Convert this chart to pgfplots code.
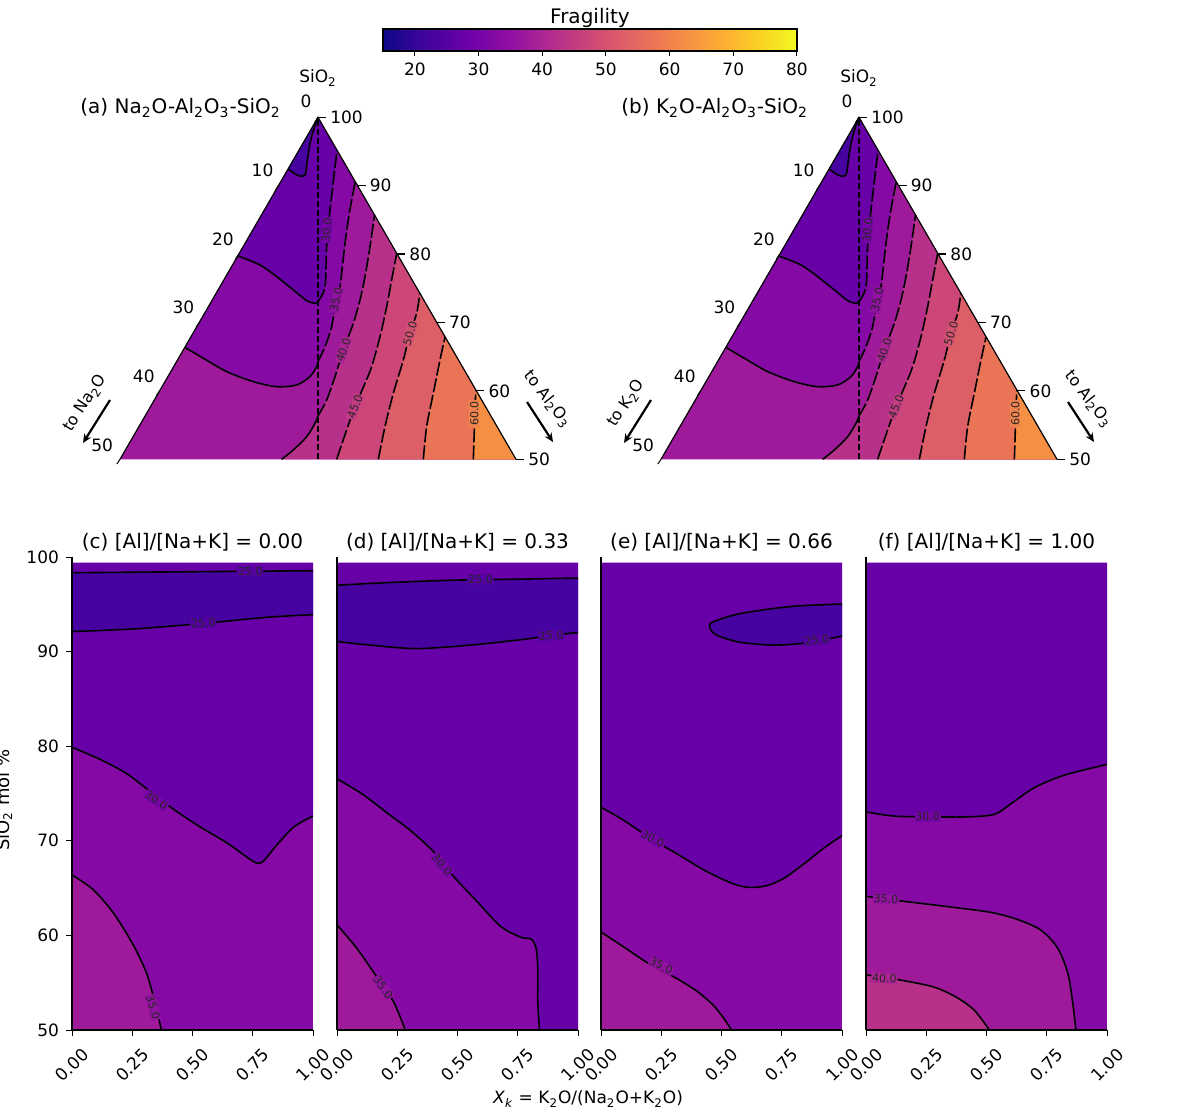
\documentclass[border=0pt]{standalone}
\usepackage{pgfplots}
\pgfplotsset{compat=1.18}
\usepackage{fontspec}
\setmainfont{DejaVu Sans}
\usetikzlibrary{arrows.meta}

\definecolor{b20}{HTML}{4703A0}
\definecolor{b25}{HTML}{6800A8}
\definecolor{b30}{HTML}{8409A5}
\definecolor{b35}{HTML}{9F1A9B}
\definecolor{b40}{HTML}{B7318A}
\definecolor{b45}{HTML}{CC4778}
\definecolor{b50}{HTML}{DC5E67}
\definecolor{b55}{HTML}{EA7556}
\definecolor{b60}{HTML}{F58F44}
\definecolor{p0}{HTML}{0D0887}
\definecolor{p1}{HTML}{41049D}
\definecolor{p2}{HTML}{6A00A8}
\definecolor{p3}{HTML}{8F0DA4}
\definecolor{p4}{HTML}{B12A90}
\definecolor{p5}{HTML}{CC4778}
\definecolor{p6}{HTML}{E16462}
\definecolor{p7}{HTML}{F2844B}
\definecolor{p8}{HTML}{FCA636}
\definecolor{p9}{HTML}{FCCE25}
\definecolor{p10}{HTML}{F0F921}
\pgfdeclarehorizontalshading{plasmah}{100bp}{color(0bp)=(p0); color(25bp)=(p0); color(30bp)=(p1); color(35bp)=(p2); color(40bp)=(p3); color(45bp)=(p4); color(50bp)=(p5); color(55bp)=(p6); color(60bp)=(p7); color(65bp)=(p8); color(70bp)=(p9); color(75bp)=(p10); color(100bp)=(p10)}

\tikzset{
  cl/.style={font=\fontsize{5.5}{5.5}\selectfont, text=black!85, inner sep=0.4pt, outer sep=0pt},
  tl/.style={font=\fontsize{8.5}{9}\selectfont, inner sep=0pt},
}
\pgfplotsset{
  tern/.style={anchor=south west, scale only axis, width=198pt, height=171pt, xmin=-50, xmax=50, ymin=50, ymax=100, hide axis, clip=false},
  cline/.style={black, line width=0.8pt, smooth, tension=0.5},
  dline/.style={black, line width=0.8pt, smooth, tension=0.5, dash pattern=on 7pt off 1.5pt},
  bot/.style={anchor=south west, scale only axis, width=120.5pt, height=236.5pt,
    xmin=0, xmax=1, ymin=50, ymax=100,
    axis x line*=bottom, axis y line*=left, axis line style={line width=0.6pt},
    xtick={0,0.25,0.5,0.75,1}, xticklabels={0.00,0.25,0.50,0.75,1.00},
    tick align=outside, major tick length=3pt, tick style={black, line width=0.5pt},
    xticklabel style={yshift=-14.5pt, rotate=45, anchor=center, font=\fontsize{8.5}{9}\selectfont},
    yticklabel style={font=\fontsize{8.5}{9}\selectfont},
    /pgf/number format/assume math mode=true,
    ytick=\empty,
    title style={font=\fontsize{10}{12}\selectfont, at={(0.5,1)}, anchor=south, yshift=-6.5pt},
    axis on top},
}

\newcommand\ternbody{%
\addplot[fill=b35, draw=none] coordinates {(-50,50) (0,100) (50,50)};
\addplot[fill=b30, draw=none] coordinates {(-33.63,66.37) (-28.96,64.77) (-23.06,62.82) (-16.33,61.35) (-10.44,60.62) (-5.39,60.87) (-2.02,62.09) (-0.34,63.55) (0,64.28) (1.77,66.47) (3.45,69.40) (4.55,73.29) (5.56,75.24) (6.82,81.58) (7.91,85.97) (9.41,90.59) (0,100)};
\addplot[fill=b25, draw=none] coordinates {(-20.27,79.73) (-14.65,78.41) (-10.44,76.71) (-6.23,74.76) (-2.86,73.20) (-0.76,72.81) (0,73.05) (1.77,75.24) (2.19,81.09) (3.03,86.45) (4.82,95.18) (0,100)};
\addplot[fill=b20, draw=none] coordinates {(0,100) (-1.01,98.39) (-2.02,96.20) (-2.69,93.76) (-3.28,91.57) (-4.97,91.47) (-7.55,92.45)};
\addplot[fill=b40, draw=none] coordinates {(-9.18,50) (-6.23,51.36) (-2.86,53.31) (-0.76,55.26) (0,56.34) (2.19,58.67) (4.29,62.09) (6.40,65.98) (8.92,69.88) (10.61,73.29) (11.87,76.71) (13.13,81.09) (14.28,85.72) (50,50)};
\addplot[fill=b45, draw=none] coordinates {(4.71,50) (7.24,54.29) (9.34,57.70) (11.5,60.6) (13.55,63.55) (15.66,67.93) (17.34,72.32) (18.60,76.22) (19.88,80.12) (50,50)};
\addplot[fill=b50, draw=none] coordinates {(15.24,50) (16.92,54.78) (19.02,59.65) (21.55,64.52) (23.23,68.42) (24.92,71.35) (25.73,74.27) (50,50)};
\addplot[fill=b55, draw=none] coordinates {(26.60,50) (27.44,54.78) (29.12,59.65) (30.81,64.52) (32.1,67.9) (50,50)};
\addplot[fill=b60, draw=none] coordinates {(39.23,50) (39.65,57.21) (39.86,60.14) (50,50)};
% contour lines
\addplot[cline] coordinates {(-7.55,92.45) (-4.97,91.47) (-3.28,91.57) (-2.69,93.76) (-2.02,96.20) (-1.01,98.39) (0,100)};
\addplot[cline] coordinates {(-20.27,79.73) (-14.65,78.41) (-10.44,76.71) (-6.23,74.76) (-2.86,73.20) (-0.76,72.81) (0,73.05)};
\addplot[dline] coordinates {(0,73.05) (1.77,75.24) (2.19,81.09) (3.03,86.45) (4.82,95.18)};
\addplot[cline] coordinates {(-33.63,66.37) (-28.96,64.77) (-23.06,62.82) (-16.33,61.35) (-10.44,60.62) (-5.39,60.87) (-2.02,62.09) (-0.34,63.55) (0,64.28)};
\addplot[dline] coordinates {(0,64.28) (1.77,66.47) (3.45,69.40) (4.55,73.29) (5.56,75.24) (6.82,81.58) (7.91,85.97) (9.41,90.59)};
\addplot[cline] coordinates {(-9.18,50) (-6.23,51.36) (-2.86,53.31) (-0.76,55.26) (0,56.34)};
\addplot[dline] coordinates {(0,56.34) (2.19,58.67) (4.29,62.09) (6.40,65.98) (8.92,69.88) (10.61,73.29) (11.87,76.71) (13.13,81.09) (14.28,85.72)};
\addplot[dline] coordinates {(4.71,50) (7.24,54.29) (9.34,57.70) (11.5,60.6) (13.55,63.55) (15.66,67.93) (17.34,72.32) (18.60,76.22) (19.88,80.12)};
\addplot[dline] coordinates {(15.24,50) (16.92,54.78) (19.02,59.65) (21.55,64.52) (23.23,68.42) (24.92,71.35) (25.73,74.27)};
\addplot[dline] coordinates {(26.60,50) (27.44,54.78) (29.12,59.65) (30.81,64.52) (32.1,67.9)};
\addplot[dline] coordinates {(39.23,50) (39.65,57.21) (39.86,60.14)};
% edges
\addplot[black, line width=0.6pt] coordinates {(-50,50) (0,100) (50,50)};
\addplot[black, line width=0.7pt, dash pattern=on 3pt off 1.5pt] coordinates {(0,50) (0,100)};
% contour labels
\node[cl, fill=b25!50!b30, rotate=85] at (axis cs:2.19,83.53) {30.0};
\node[cl, fill=b30!50!b35, rotate=78] at (axis cs:4.55,73.29) {35.0};
\node[cl, fill=b35!50!b40, rotate=71] at (axis cs:6.40,65.98) {40.0};
\node[cl, fill=b40!50!b45, rotate=68] at (axis cs:9.34,57.70) {45.0};
\node[cl, fill=b45!50!b50, rotate=74] at (axis cs:23.23,68.42) {50.0};
\node[cl, fill=b55!50!b60, rotate=90] at (axis cs:39.5,56.7) {60.0};
% right ticks (SiO2)
\draw[black, line width=0.6pt] (axis cs:0,100) -- (axis cs:2,100);
\draw[black, line width=0.6pt] (axis cs:10,90) -- (axis cs:12,90);
\draw[black, line width=0.6pt] (axis cs:20,80) -- (axis cs:22,80);
\draw[black, line width=0.6pt] (axis cs:30,70) -- (axis cs:32,70);
\draw[black, line width=0.6pt] (axis cs:40,60) -- (axis cs:42,60);
\draw[black, line width=0.6pt] (axis cs:50,50) -- (axis cs:52,50);
\node[tl, anchor=west] at (axis cs:3,100) {100};
\node[tl, anchor=west] at (axis cs:13,90) {90};
\node[tl, anchor=west] at (axis cs:23,80) {80};
\node[tl, anchor=west] at (axis cs:33,70) {70};
\node[tl, anchor=west] at (axis cs:43,60) {60};
\node[tl, anchor=west] at (axis cs:53,50) {50};
% left ticks
\draw[black, line width=0.5pt] (axis cs:0,100) -- (axis cs:-0.8,99.3);
\draw[black, line width=0.5pt] (axis cs:-10,90) -- (axis cs:-10.8,89.3);
\draw[black, line width=0.5pt] (axis cs:-20,80) -- (axis cs:-20.8,79.3);
\draw[black, line width=0.5pt] (axis cs:-30,70) -- (axis cs:-30.8,69.3);
\draw[black, line width=0.5pt] (axis cs:-40,60) -- (axis cs:-40.8,59.3);
\draw[black, line width=0.5pt] (axis cs:-50,50) -- (axis cs:-50.8,49.3);
\node[tl] at (axis cs:-3,102.3) {0};
\node[tl] at (axis cs:-14,92.2) {10};
\node[tl] at (axis cs:-24,82.2) {20};
\node[tl] at (axis cs:-34,72.2) {30};
\node[tl] at (axis cs:-44,62.2) {40};
\node[tl] at (axis cs:-54.5,52) {50};
}

\begin{document}
\begin{tikzpicture}
\useasboundingbox (0,0) rectangle (597pt,557.5pt);

% colorbar
\begin{axis}[anchor=south west, at={(191.5pt,532pt)}, scale only axis, width=207pt, height=11pt,
  xmin=15, xmax=80, ymin=0, ymax=1, xtick={20,30,...,80}, ytick=\empty, xtick pos=bottom,
  tick align=outside, major tick length=2.5pt, tick style={black, line width=0.5pt},
  xticklabel style={font=\fontsize{8.5}{9}\selectfont},
  /pgf/number format/assume math mode=true,
  axis line style={line width=0.8pt}, axis on top,
  title={Fragility}, title style={font=\fontsize{10}{12}\selectfont, yshift=-9pt}]
\shade[shading=plasmah] (axis cs:15,0) rectangle (axis cs:80,1);
\end{axis}

% ternary (a)
\begin{axis}[tern, at={(60pt,327.85pt)}]
\ternbody
\end{axis}
% ternary (b)
\begin{axis}[tern, at={(330.5pt,327.85pt)}]
\ternbody
\end{axis}

\node[tl] at (159pt,518.5pt) {SiO\textsubscript{2}};
\node[tl] at (429.5pt,518.5pt) {SiO\textsubscript{2}};
\node[anchor=west, font=\fontsize{10}{12}\selectfont, inner sep=0pt] at (40pt,503.5pt) {(a) Na\textsubscript{2}O-Al\textsubscript{2}O\textsubscript{3}-SiO\textsubscript{2}};
\node[anchor=west, font=\fontsize{10}{12}\selectfont, inner sep=0pt] at (310.5pt,503.5pt) {(b) K\textsubscript{2}O-Al\textsubscript{2}O\textsubscript{3}-SiO\textsubscript{2}};

\draw[line width=1.1pt, -{Stealth[length=4.5pt,width=4pt]}] (55pt,357.5pt) -- (41.5pt,336pt);
\node[rotate=57, font=\fontsize{8}{9}\selectfont, inner sep=0pt] at (42.7pt,355.8pt) {to Na\textsubscript{2}O};
\draw[line width=1.1pt, -{Stealth[length=4.5pt,width=4pt]}] (263.5pt,356.5pt) -- (276.5pt,336.5pt);
\node[rotate=-52, font=\fontsize{8}{9}\selectfont, inner sep=0pt] at (273.8pt,357.8pt) {to Al\textsubscript{2}O\textsubscript{3}};

\draw[line width=1.1pt, -{Stealth[length=4.5pt,width=4pt]}] (325.5pt,357.5pt) -- (312pt,336pt);
\node[rotate=57, font=\fontsize{8}{9}\selectfont, inner sep=0pt] at (313.2pt,355.8pt) {to K\textsubscript{2}O};
\draw[line width=1.1pt, -{Stealth[length=4.5pt,width=4pt]}] (534pt,356.5pt) -- (547pt,336.5pt);
\node[rotate=-52, font=\fontsize{8}{9}\selectfont, inner sep=0pt] at (544.3pt,357.8pt) {to Al\textsubscript{2}O\textsubscript{3}};

% (c)
\begin{axis}[bot, at={(36pt,42.5pt)}, title={(c) [Al]/[Na+K] = 0.00}, ytick={50,60,...,100}]
\addplot[fill=b30, draw=none] coordinates {(0,50) (1,50) (1,99.4) (0,99.4)};
\addplot[fill=b25, draw=none] coordinates {(0,79.88) (0.114,78.64) (0.225,77.13) (0.323,75.24) (0.42,73.36) (0.531,71.48) (0.643,69.78) (0.726,68.27) (0.768,67.63) (0.796,67.90) (0.851,69.59) (0.921,71.48) (1,72.61) (1,99.4) (0,99.4)};
\addplot[fill=b20, draw=none] coordinates {(0,92.12) (0.253,92.39) (0.531,92.95) (0.809,93.63) (1,93.90) (1,98.55) (0.53,98.45) (0,98.34)};
\addplot[fill=b35, draw=none] coordinates {(0,66.39) (0.086,64.88) (0.170,62.43) (0.253,59.04) (0.309,56.03) (0.343,53.01) (0.371,50) (0,50)};
\addplot[cline] coordinates {(0,79.88) (0.114,78.64) (0.225,77.13) (0.323,75.24) (0.42,73.36) (0.531,71.48) (0.643,69.78) (0.726,68.27) (0.768,67.63) (0.796,67.90) (0.851,69.59) (0.921,71.48) (1,72.61)};
\addplot[cline] coordinates {(0,92.12) (0.253,92.39) (0.531,92.95) (0.809,93.63) (1,93.90)};
\addplot[cline] coordinates {(0,98.34) (0.53,98.45) (1,98.55)};
\addplot[cline] coordinates {(0,66.39) (0.086,64.88) (0.170,62.43) (0.253,59.04) (0.309,56.03) (0.343,53.01) (0.371,50)};
\node[cl, fill=b20!50!b25] at (axis cs:0.74,98.5) {25.0};
\node[cl, fill=b20!50!b25, rotate=3] at (axis cs:0.545,93.0) {25.0};
\node[cl, fill=b25!50!b30, rotate=-35] at (axis cs:0.35,74.3) {30.0};
\node[cl, fill=b30!50!b35, rotate=-74] at (axis cs:0.337,52.4) {35.0};
\end{axis}

% (d)
\begin{axis}[bot, at={(168.5pt,42.5pt)}, title={(d) [Al]/[Na+K] = 0.33}]
\addplot[fill=b30, draw=none] coordinates {(0,50) (1,50) (1,99.4) (0,99.4)};
\addplot[fill=b25, draw=none] coordinates {(0,76.56) (0.109,74.87) (0.206,72.98) (0.304,71.10) (0.401,68.84) (0.485,66.20) (0.582,63.56) (0.680,60.93) (0.763,59.80) (0.805,59.61) (0.826,58.67) (0.833,56.41) (0.833,53.01) (0.840,50) (1,50) (1,99.4) (0,99.4)};
\addplot[fill=b20, draw=none] coordinates {(0,91.07) (0.136,90.69) (0.331,90.32) (0.554,90.69) (0.763,91.26) (0.902,91.75) (1,92.01) (1,97.78) (0.763,97.66) (0.485,97.55) (0.206,97.29) (0,97.02)};
\addplot[fill=b35, draw=none] coordinates {(0,61.12) (0.081,58.67) (0.164,55.65) (0.234,53.01) (0.283,50) (0,50)};
\addplot[cline] coordinates {(0,76.56) (0.109,74.87) (0.206,72.98) (0.304,71.10) (0.401,68.84) (0.485,66.20) (0.582,63.56) (0.680,60.93) (0.763,59.80) (0.805,59.61) (0.826,58.67) (0.833,56.41) (0.833,53.01) (0.840,50)};
\addplot[cline] coordinates {(0,91.07) (0.136,90.69) (0.331,90.32) (0.554,90.69) (0.763,91.26) (0.902,91.75) (1,92.01)};
\addplot[cline] coordinates {(0,97.02) (0.206,97.29) (0.485,97.55) (0.763,97.66) (1,97.78)};
\addplot[cline] coordinates {(0,61.12) (0.081,58.67) (0.164,55.65) (0.234,53.01) (0.283,50)};
\node[cl, fill=b20!50!b25, rotate=1] at (axis cs:0.596,97.6) {25.0};
\node[cl, fill=b20!50!b25, rotate=5] at (axis cs:0.889,91.7) {25.0};
\node[cl, fill=b25!50!b30, rotate=-49] at (axis cs:0.436,67.5) {30.0};
\node[cl, fill=b30!50!b35, rotate=-54] at (axis cs:0.192,54.5) {35.0};
\end{axis}

% (e)
\begin{axis}[bot, at={(300.5pt,42.5pt)}, title={(e) [Al]/[Na+K] = 0.66}]
\addplot[fill=b30, draw=none] coordinates {(0,50) (1,50) (1,99.4) (0,99.4)};
\addplot[fill=b25, draw=none] coordinates {(0,73.55) (0.090,72.23) (0.201,70.35) (0.313,68.65) (0.438,66.77) (0.549,65.45) (0.618,65.07) (0.688,65.26) (0.757,66.01) (0.840,67.52) (0.924,69.22) (1,70.54) (1,99.4) (0,99.4)};
\addplot[fill=b20, draw=none] coordinates {(1,95.03) (0.785,94.76) (0.576,94.01) (0.465,93.14) (0.451,92.57) (0.479,91.75) (0.576,90.99) (0.715,90.69) (0.840,90.88) (0.924,91.26) (1,91.63)};
\addplot[fill=b35, draw=none] coordinates {(0,60.36) (0.090,58.85) (0.201,56.97) (0.313,55.46) (0.396,54.14) (0.465,52.64) (0.507,51.32) (0.542,50) (0,50)};
\addplot[cline] coordinates {(0,73.55) (0.090,72.23) (0.201,70.35) (0.313,68.65) (0.438,66.77) (0.549,65.45) (0.618,65.07) (0.688,65.26) (0.757,66.01) (0.840,67.52) (0.924,69.22) (1,70.54)};
\addplot[cline] coordinates {(1,95.03) (0.785,94.76) (0.576,94.01) (0.465,93.14) (0.451,92.57) (0.479,91.75) (0.576,90.99) (0.715,90.69) (0.840,90.88) (0.924,91.26) (1,91.63)};
\addplot[cline] coordinates {(0,60.36) (0.090,58.85) (0.201,56.97) (0.313,55.46) (0.396,54.14) (0.465,52.64) (0.507,51.32) (0.542,50)};
\node[cl, fill=b20!50!b25, rotate=5] at (axis cs:0.896,91.2) {25.0};
\node[cl, fill=b25!50!b30, rotate=-29] at (axis cs:0.215,70.2) {30.0};
\node[cl, fill=b30!50!b35, rotate=-27] at (axis cs:0.25,56.8) {35.0};
\end{axis}

% (f)
\begin{axis}[bot, at={(433pt,42.5pt)}, title={(f) [Al]/[Na+K] = 1.00}]
\addplot[fill=b30, draw=none] coordinates {(0,50) (1,50) (1,99.4) (0,99.4)};
\addplot[fill=b25, draw=none] coordinates {(0,73.06) (0.118,72.61) (0.284,72.53) (0.422,72.53) (0.533,72.80) (0.602,73.93) (0.699,75.62) (0.823,76.94) (1,78.07) (1,99.4) (0,99.4)};
\addplot[fill=b35, draw=none] coordinates {(0,64.13) (0.145,63.64) (0.353,63.0) (0.519,62.43) (0.629,61.68) (0.726,60.55) (0.795,58.67) (0.837,56.03) (0.857,53.01) (0.871,50) (0,50)};
\addplot[fill=b40, draw=none] coordinates {(0,55.84) (0.145,55.27) (0.284,54.52) (0.380,53.39) (0.450,52.07) (0.512,50) (0,50)};
\addplot[cline] coordinates {(0,73.06) (0.118,72.61) (0.284,72.53) (0.422,72.53) (0.533,72.80) (0.602,73.93) (0.699,75.62) (0.823,76.94) (1,78.07)};
\addplot[cline] coordinates {(0,64.13) (0.145,63.64) (0.353,63.0) (0.519,62.43) (0.629,61.68) (0.726,60.55) (0.795,58.67) (0.837,56.03) (0.857,53.01) (0.871,50)};
\addplot[cline] coordinates {(0,55.84) (0.145,55.27) (0.284,54.52) (0.380,53.39) (0.450,52.07) (0.512,50)};
\node[cl, fill=b25!50!b30] at (axis cs:0.256,72.55) {30.0};
\node[cl, fill=b30!50!b35, rotate=-2] at (axis cs:0.083,63.85) {35.0};
\node[cl, fill=b35!50!b40, rotate=-4] at (axis cs:0.076,55.45) {40.0};
\end{axis}

\node[font=\fontsize{8.5}{10}\selectfont] at (294pt,8pt) {\textit{X}\textsubscript{\textit{k}} = K\textsubscript{2}O/(Na\textsubscript{2}O+K\textsubscript{2}O)};
\node[rotate=90, font=\fontsize{9}{10}\selectfont] at (2pt,157.5pt) {SiO\textsubscript{2} mol \%};
\end{tikzpicture}
\end{document}
